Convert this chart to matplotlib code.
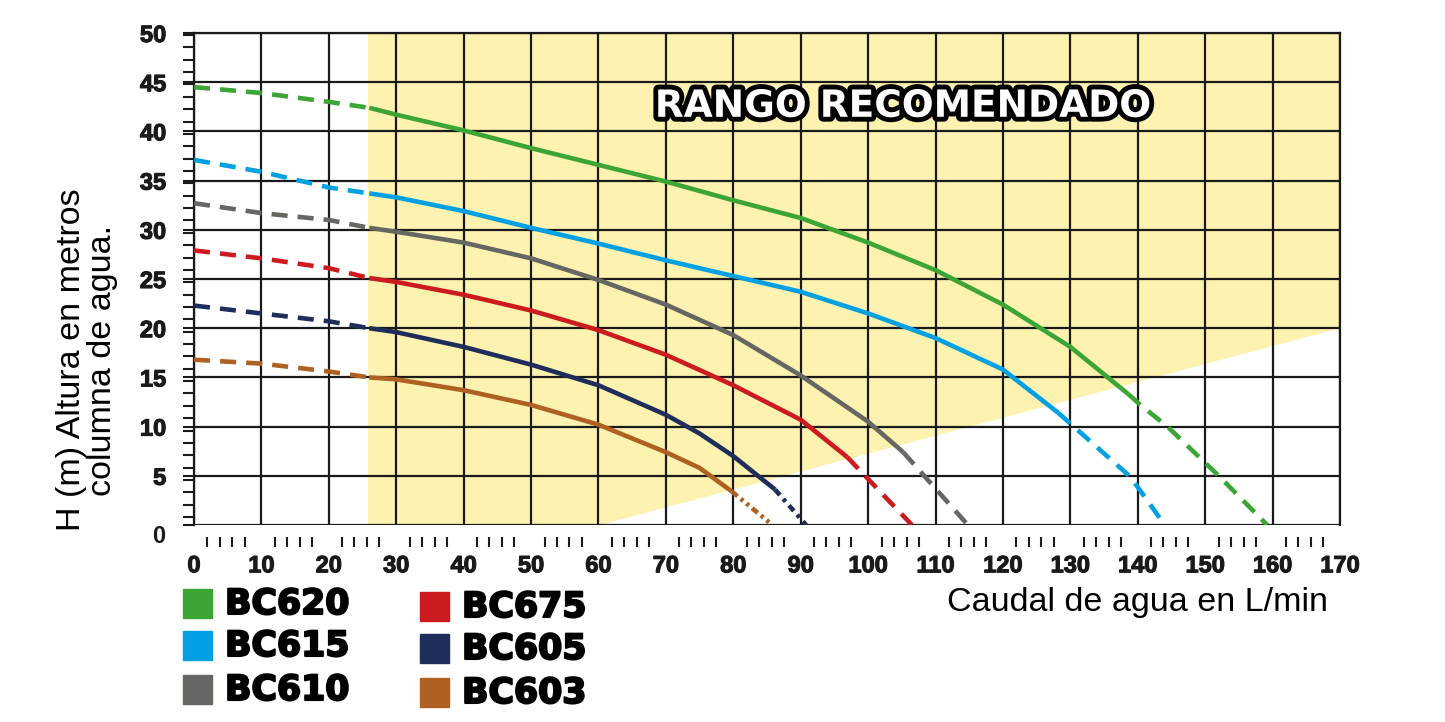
import numpy as np
import matplotlib.pyplot as plt
import matplotlib.patheffects as pe
from matplotlib.patches import Rectangle

# caudal (L/min) / altura (m)
names = ['BC620', 'BC615', 'BC610', 'BC675', 'BC605', 'BC603']
colors = ['#3da535', '#00a0e3', '#666662', '#cc1b1e', '#1f2d5a', '#ae6122']

x_620 = [0, 10, 20, 26, 30, 40, 50, 60, 70, 80, 90, 100, 110, 120, 130, 138.6, 140.4, 144.4, 152, 159.2]
y_620 = [44.5, 43.9, 43.0, 42.4, 41.7, 40.1, 38.3, 36.6, 34.9, 33.0, 31.2, 28.7, 25.9, 22.4, 18.1, 13.3, 12.2, 10.0, 5.0, 0]
x_615 = [0, 10, 20, 26, 30, 40, 50, 60, 70, 80, 90, 100, 110, 120, 128.2, 138.9, 144]
y_615 = [37.1, 35.9, 34.3, 33.7, 33.3, 31.9, 30.2, 28.6, 26.9, 25.3, 23.7, 21.5, 19.0, 15.8, 11.4, 4.9, 0]
x_610 = [0, 10, 20, 26, 30, 40, 50, 60, 70, 80, 90, 100, 105.2, 114.8]
y_610 = [32.7, 31.7, 31.0, 30.2, 29.8, 28.7, 27.1, 24.9, 22.4, 19.3, 15.2, 10.5, 7.4, 0]
x_675 = [0, 10, 20, 26, 30, 40, 50, 60, 70, 80, 90, 96.9, 106.5]
y_675 = [27.9, 27.1, 26.1, 25.1, 24.7, 23.4, 21.8, 19.8, 17.3, 14.2, 10.7, 6.9, 0]
x_605 = [0, 10, 20, 26, 30, 40, 50, 60, 70, 75, 80, 86.2, 90.8]
y_605 = [22.3, 21.5, 20.7, 20.0, 19.6, 18.1, 16.3, 14.2, 11.2, 9.3, 7.0, 3.6, 0]
x_603 = [0, 10, 20, 26, 30, 40, 50, 60, 70, 75, 79.8, 85.8]
y_603 = [16.8, 16.4, 15.6, 15.0, 14.8, 13.7, 12.2, 10.2, 7.4, 5.8, 3.4, 0]

xs = [x_620, x_615, x_610, x_675, x_605, x_603]
ys = [y_620, y_615, y_610, y_675, y_605, y_603]
solid_from = [26, 26, 26, 26, 26, 26]
solid_to = [138.6, 128.2, 105.2, 96.9, 86.2, 79.8]

# zona "rango recomendado"
range_x = [25.8, 25.8, 60.2, 170, 170]
range_y = [50, 0, 0, 20, 50]

dash_long = (3.5, 2.2)
end_styles = [dash_long, dash_long, dash_long, dash_long, (1.6, 1.1, 0.8, 1.1), (1.6, 0.9, 0.7, 0.9, 0.7, 0.9)]

fig = plt.figure(figsize=(14.45, 7.22), dpi=100)
ax = fig.add_axes([194 / 1445, 1 - 525 / 722, (1340 - 194) / 1445, (525 - 33) / 722])

ax.fill(range_x, range_y, color='#fdf2b0', lw=0, zorder=0)

for x, y, c, s0, s1, es in zip(xs, ys, colors, solid_from, solid_to, end_styles):
    x = np.array(x)
    y = np.array(y)
    a = x <= s0
    b = (x >= s0) & (x <= s1)
    d = x >= s1
    ax.plot(x[a], y[a], color=c, lw=3.3, dashes=dash_long, zorder=3)
    ax.plot(x[b], y[b], color=c, lw=3.3, solid_capstyle='butt', solid_joinstyle='round', zorder=3)
    ax.plot(x[d], y[d], color=c, lw=3.3, dashes=es, zorder=3)

ax.set_xlim(0, 170)
ax.set_ylim(0, 50)
ax.set_xticks(range(0, 171, 10))
ax.set_yticks(range(0, 51, 5))
ax.grid(True, color='#1a1a1a', lw=1.6, zorder=1)
ax.set_axisbelow(True)
for sp in ax.spines.values():
    sp.set_linewidth(1.6)
    sp.set_color('#1a1a1a')
ax.spines['bottom'].set_position(('outward', 8.6))
ax.spines['bottom'].set_visible(False)
ax.axhline(0, color='#1a1a1a', lw=2, zorder=2)

bold_fx = [pe.withStroke(linewidth=0.8, foreground='#1a1a1a')]
tick_font = dict(family='Liberation Sans', weight='bold', size=17, color='#1a1a1a')
minor_x = [m + o for m in range(0, 170, 10) for o in (2, 3.8, 5.7, 7.5)]
ax.set_xticks(minor_x, minor=True)
ax.tick_params(axis='x', which='major', length=0, pad=12.5)
ax.tick_params(axis='x', which='minor', length=7.2, width=1.5, direction='out', color='#1a1a1a')
ax.set_xticklabels([str(v) for v in range(0, 171, 10)], **tick_font)

ax.set_yticks(np.linspace(0.8, 49.8, 40), minor=True)
ax.tick_params(axis='y', which='both', length=8, width=1.5, direction='out', color='#1a1a1a', pad=12)
ylabels = [str(v) if v else '' for v in range(0, 51, 5)]
ax.set_yticklabels(ylabels, **tick_font)
ax.text(-0.025, -0.024, '0', transform=ax.transAxes, ha='right', va='center', **tick_font)
for t in ax.get_xticklabels() + ax.get_yticklabels():
    t.set_path_effects(bold_fx)

fig.text(87 / 1445, 1 - 360 / 722, 'H (m) Altura en metros\ncolumna de agua.', rotation=90,
         ha='center', va='center', fontsize=24.5, linespacing=1.0, family='Liberation Sans')
fig.text(1328 / 1445, 1 - 603 / 722, 'Caudal de agua en L/min', ha='right', va='center',
         fontsize=24.5, family='Liberation Sans')

ax.text(105.2, 42.5, 'RANGO RECOMENDADO', ha='center', va='center', fontsize=27, weight='bold',
        color='white', zorder=5,
        path_effects=[pe.withStroke(linewidth=7, foreground='black')])

# leyenda
leg_pos = [(183, 604), (183, 646), (183, 690), (420, 607), (420, 649), (420, 693)]
for (px, py), name, c in zip(leg_pos, names, colors):
    fig.add_artist(Rectangle((px / 1445, 1 - (py + 14) / 722), 29 / 1445, 29 / 722,
                             color=c, transform=fig.transFigure))
    fig.text((px + 42) / 1445, 1 - py / 722, name, ha='left', va='center',
             fontsize=25, weight='bold', family='DejaVu Sans',
             path_effects=[pe.withStroke(linewidth=1.5, foreground='black')])

fig.savefig('out.png', dpi=100)
